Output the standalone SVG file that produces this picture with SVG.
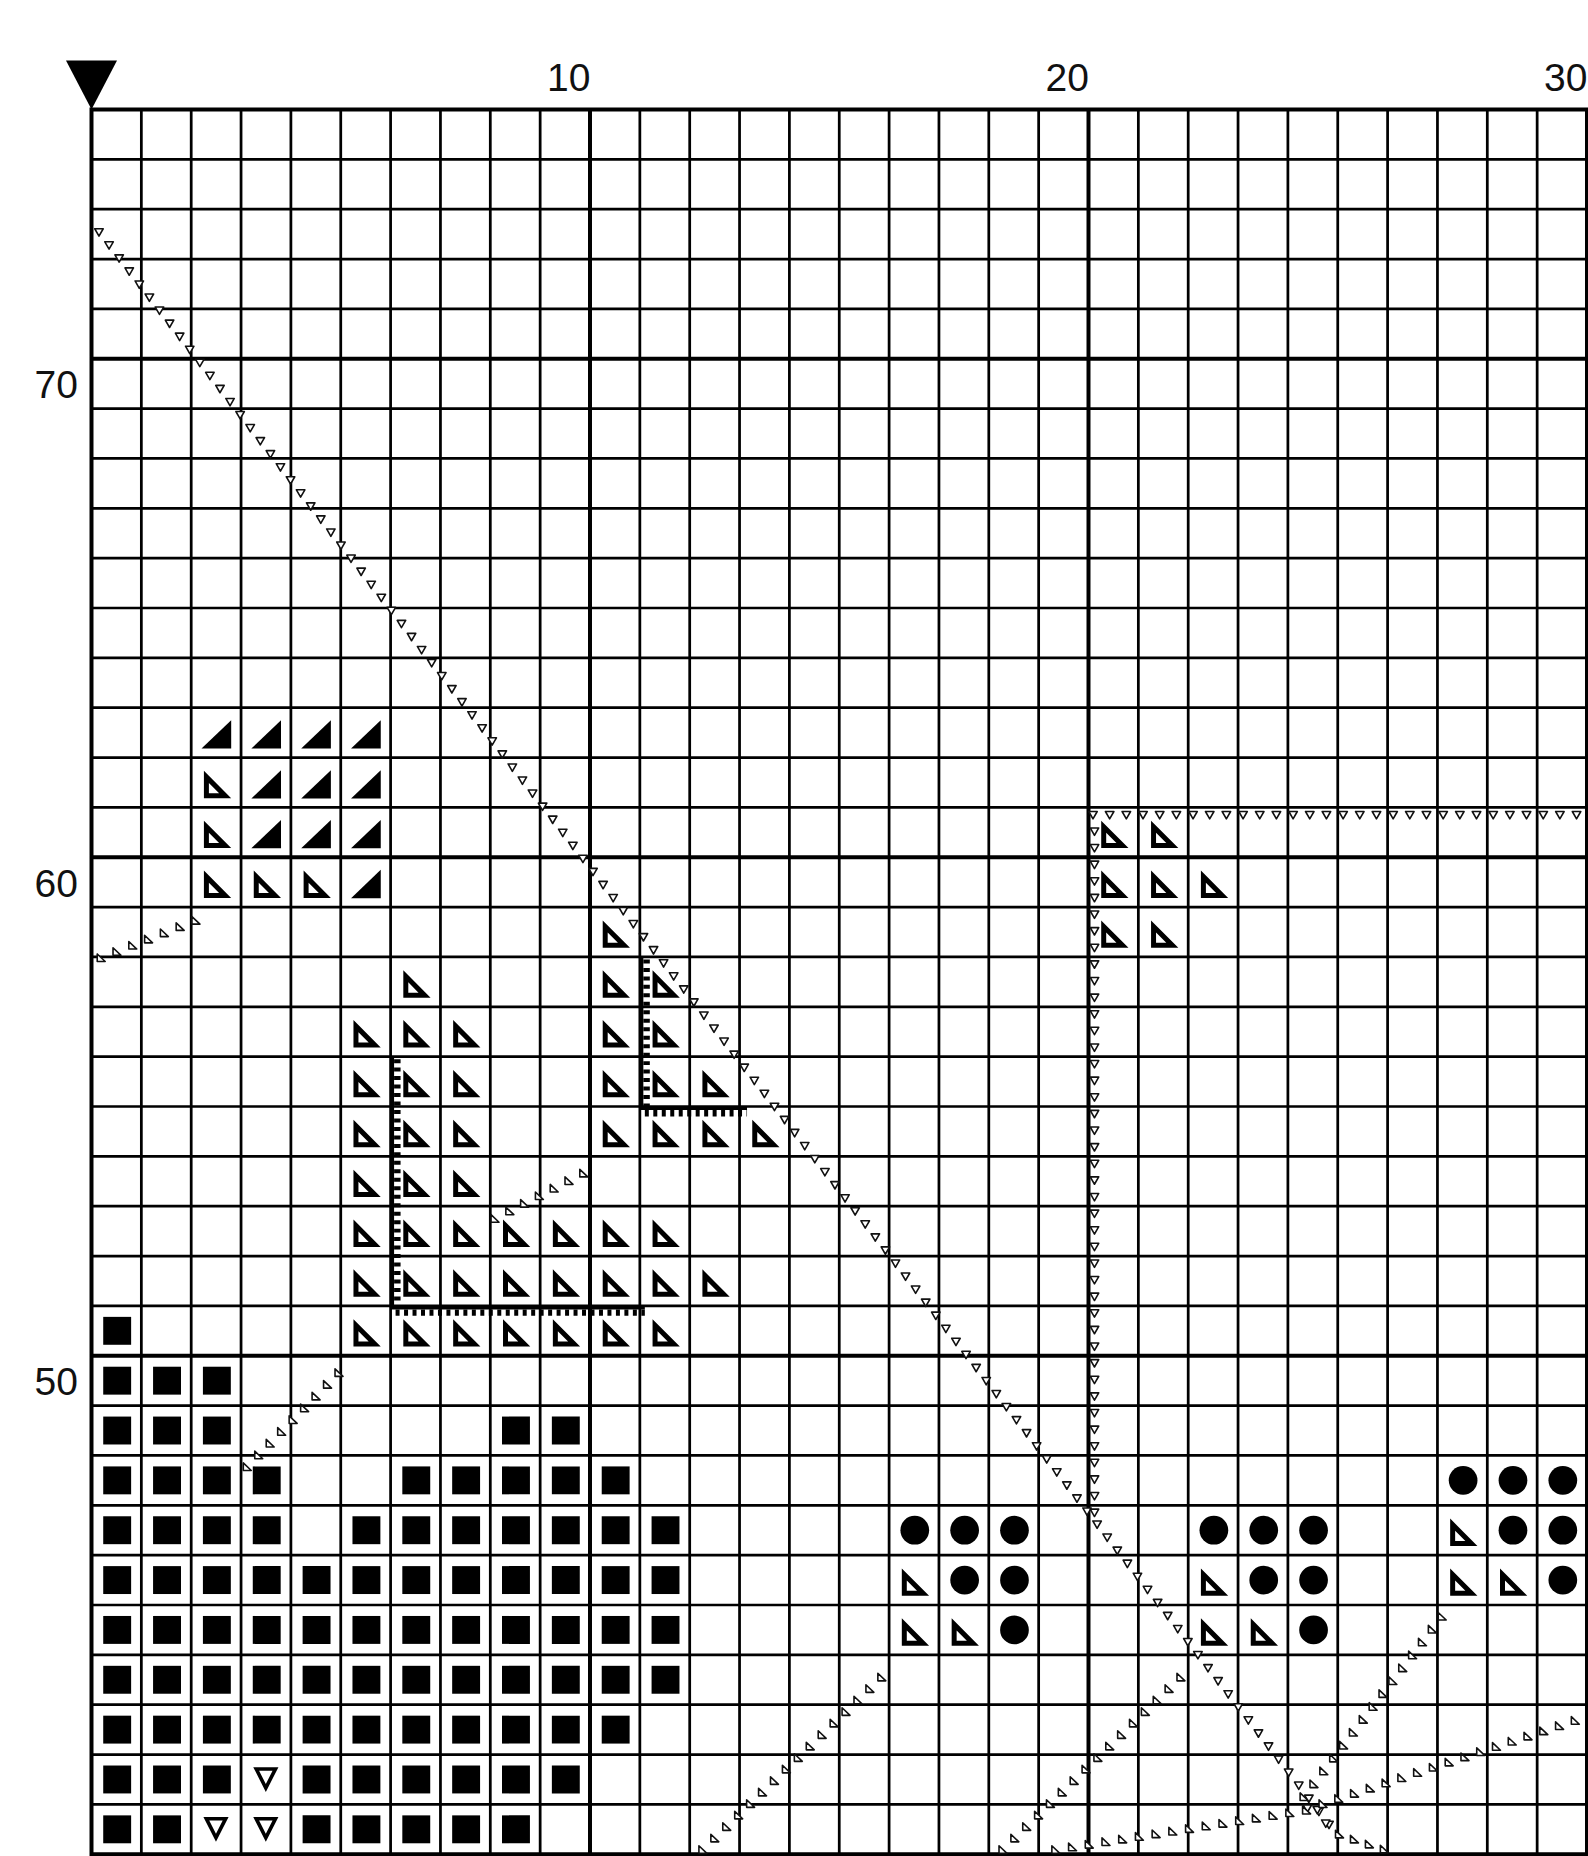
<svg xmlns="http://www.w3.org/2000/svg" width="1588" height="1856" viewBox="0 0 1588 1856">
<style>
.t{font-family:"Liberation Sans",Arial,sans-serif;font-size:39px;fill:#111}
.gt{fill:none;stroke:#000;stroke-width:.055}
.gb{fill:none;stroke:#000;stroke-width:.08;stroke-linecap:square}
.lv{fill:none;stroke:none;marker-start:url(#mv);marker-mid:url(#mv);marker-end:url(#mv)}
.la{fill:none;stroke:none;marker-start:url(#ma);marker-mid:url(#ma);marker-end:url(#ma)}
.sb{fill:none;stroke:#000;stroke-width:.07}
.st{fill:none;stroke:#000;stroke-width:.13;stroke-dasharray:.08 .09}
</style>
<defs>
<marker id="mv" markerUnits="userSpaceOnUse" markerWidth="1" markerHeight="1" refX="0" refY="0" orient="0" overflow="visible" style="overflow:visible"><path d="M-.085,-.068H.085L0,.08Z" fill="#fff" stroke="#111" stroke-width=".032" stroke-linejoin="round"/></marker>
<marker id="ma" markerUnits="userSpaceOnUse" markerWidth="1" markerHeight="1" refX="0" refY="0" orient="0" overflow="visible" style="overflow:visible"><path d="M-.075,-.08V.072H.085Z" fill="#fff" stroke="#111" stroke-width=".032" stroke-linejoin="round"/></marker>
<path id="sq" d="M.235,.22h.56v.56h-.56z"/>
<circle id="ci" cx=".515" cy=".5" r=".288"/>
<path id="to" d="M.255,.267V.816H.802ZM.355,.51V.716H.56Z" fill-rule="evenodd"/>
<path id="tf" d="M.207,.82H.802V.253Z"/>
<path id="tv" d="M.245,.253H.75L.497,.75ZM.362,.325L.497,.591L.632,.325Z" fill-rule="evenodd"/>
</defs>
<rect width="1588" height="1856" fill="#fff"/>
<g id="labels">
<path d="M66,60.5H117L91.5,109.5Z" fill="#000"/>
<text class="t" x="590.5" y="91" text-anchor="end">10</text>
<text class="t" x="1089" y="91" text-anchor="end">20</text>
<text class="t" x="1587.5" y="91" text-anchor="end">30</text>
<text class="t" x="78" y="398" text-anchor="end">70</text>
<text class="t" x="78" y="896.5" text-anchor="end">60</text>
<text class="t" x="78" y="1395" text-anchor="end">50</text>
</g>
<g transform="translate(91.5,109.5) scale(49.85)">
<g id="grid">
<path class="gt" d="M1,0V35M2,0V35M3,0V35M4,0V35M5,0V35M6,0V35M7,0V35M8,0V35M9,0V35M11,0V35M12,0V35M13,0V35M14,0V35M15,0V35M16,0V35M17,0V35M18,0V35M19,0V35M21,0V35M22,0V35M23,0V35M24,0V35M25,0V35M26,0V35M27,0V35M28,0V35M29,0V35"/>
<path class="gt" d="M0,1H30M0,2H30M0,3H30M0,4H30M0,6H30M0,7H30M0,8H30M0,9H30M0,10H30M0,11H30M0,12H30M0,13H30M0,14H30M0,16H30M0,17H30M0,18H30M0,19H30M0,20H30M0,21H30M0,22H30M0,23H30M0,24H30M0,26H30M0,27H30M0,28H30M0,29H30M0,30H30M0,31H30M0,32H30M0,33H30M0,34H30"/>
<path class="gb" d="M0,0V35M10,0V35M20,0V35M30,0V35M0,0H30M0,5H30M0,15H30M0,25H30M0,35H30"/>
</g>
<g id="symbols" fill="#000">
<use href="#tf" x="2" y="12"/><use href="#tf" x="3" y="12"/><use href="#tf" x="4" y="12"/><use href="#tf" x="5" y="12"/>
<use href="#tf" x="3" y="13"/><use href="#tf" x="4" y="13"/><use href="#tf" x="5" y="13"/>
<use href="#tf" x="3" y="14"/><use href="#tf" x="4" y="14"/><use href="#tf" x="5" y="14"/>
<use href="#tf" x="5" y="15"/>
<use href="#to" x="2" y="13"/>
<use href="#to" x="2" y="14"/><use href="#to" x="20" y="14"/><use href="#to" x="21" y="14"/>
<use href="#to" x="2" y="15"/><use href="#to" x="3" y="15"/><use href="#to" x="4" y="15"/><use href="#to" x="20" y="15"/><use href="#to" x="21" y="15"/><use href="#to" x="22" y="15"/>
<use href="#to" x="10" y="16"/><use href="#to" x="20" y="16"/><use href="#to" x="21" y="16"/>
<use href="#to" x="6" y="17"/><use href="#to" x="10" y="17"/><use href="#to" x="11" y="17"/>
<use href="#to" x="5" y="18"/><use href="#to" x="6" y="18"/><use href="#to" x="7" y="18"/><use href="#to" x="10" y="18"/><use href="#to" x="11" y="18"/>
<use href="#to" x="5" y="19"/><use href="#to" x="6" y="19"/><use href="#to" x="7" y="19"/><use href="#to" x="10" y="19"/><use href="#to" x="11" y="19"/><use href="#to" x="12" y="19"/>
<use href="#to" x="5" y="20"/><use href="#to" x="6" y="20"/><use href="#to" x="7" y="20"/><use href="#to" x="10" y="20"/><use href="#to" x="11" y="20"/><use href="#to" x="12" y="20"/><use href="#to" x="13" y="20"/>
<use href="#to" x="5" y="21"/><use href="#to" x="6" y="21"/><use href="#to" x="7" y="21"/>
<use href="#to" x="5" y="22"/><use href="#to" x="6" y="22"/><use href="#to" x="7" y="22"/><use href="#to" x="8" y="22"/><use href="#to" x="9" y="22"/><use href="#to" x="10" y="22"/><use href="#to" x="11" y="22"/>
<use href="#to" x="5" y="23"/><use href="#to" x="6" y="23"/><use href="#to" x="7" y="23"/><use href="#to" x="8" y="23"/><use href="#to" x="9" y="23"/><use href="#to" x="10" y="23"/><use href="#to" x="11" y="23"/><use href="#to" x="12" y="23"/>
<use href="#to" x="5" y="24"/><use href="#to" x="6" y="24"/><use href="#to" x="7" y="24"/><use href="#to" x="8" y="24"/><use href="#to" x="9" y="24"/><use href="#to" x="10" y="24"/><use href="#to" x="11" y="24"/>
<use href="#to" x="27" y="28"/>
<use href="#to" x="16" y="29"/><use href="#to" x="22" y="29"/><use href="#to" x="27" y="29"/><use href="#to" x="28" y="29"/>
<use href="#to" x="16" y="30"/><use href="#to" x="17" y="30"/><use href="#to" x="22" y="30"/><use href="#to" x="23" y="30"/>
<use href="#ci" x="27" y="27"/><use href="#ci" x="28" y="27"/><use href="#ci" x="29" y="27"/>
<use href="#ci" x="16" y="28"/><use href="#ci" x="17" y="28"/><use href="#ci" x="18" y="28"/><use href="#ci" x="22" y="28"/><use href="#ci" x="23" y="28"/><use href="#ci" x="24" y="28"/><use href="#ci" x="28" y="28"/><use href="#ci" x="29" y="28"/>
<use href="#ci" x="17" y="29"/><use href="#ci" x="18" y="29"/><use href="#ci" x="23" y="29"/><use href="#ci" x="24" y="29"/><use href="#ci" x="29" y="29"/>
<use href="#ci" x="18" y="30"/><use href="#ci" x="24" y="30"/>
<use href="#sq" x="0" y="24"/>
<use href="#sq" x="0" y="25"/><use href="#sq" x="1" y="25"/><use href="#sq" x="2" y="25"/>
<use href="#sq" x="0" y="26"/><use href="#sq" x="1" y="26"/><use href="#sq" x="2" y="26"/><use href="#sq" x="8" y="26"/><use href="#sq" x="9" y="26"/>
<use href="#sq" x="0" y="27"/><use href="#sq" x="1" y="27"/><use href="#sq" x="2" y="27"/><use href="#sq" x="3" y="27"/><use href="#sq" x="6" y="27"/><use href="#sq" x="7" y="27"/><use href="#sq" x="8" y="27"/><use href="#sq" x="9" y="27"/><use href="#sq" x="10" y="27"/>
<use href="#sq" x="0" y="28"/><use href="#sq" x="1" y="28"/><use href="#sq" x="2" y="28"/><use href="#sq" x="3" y="28"/><use href="#sq" x="5" y="28"/><use href="#sq" x="6" y="28"/><use href="#sq" x="7" y="28"/><use href="#sq" x="8" y="28"/><use href="#sq" x="9" y="28"/><use href="#sq" x="10" y="28"/><use href="#sq" x="11" y="28"/>
<use href="#sq" x="0" y="29"/><use href="#sq" x="1" y="29"/><use href="#sq" x="2" y="29"/><use href="#sq" x="3" y="29"/><use href="#sq" x="4" y="29"/><use href="#sq" x="5" y="29"/><use href="#sq" x="6" y="29"/><use href="#sq" x="7" y="29"/><use href="#sq" x="8" y="29"/><use href="#sq" x="9" y="29"/><use href="#sq" x="10" y="29"/><use href="#sq" x="11" y="29"/>
<use href="#sq" x="0" y="30"/><use href="#sq" x="1" y="30"/><use href="#sq" x="2" y="30"/><use href="#sq" x="3" y="30"/><use href="#sq" x="4" y="30"/><use href="#sq" x="5" y="30"/><use href="#sq" x="6" y="30"/><use href="#sq" x="7" y="30"/><use href="#sq" x="8" y="30"/><use href="#sq" x="9" y="30"/><use href="#sq" x="10" y="30"/><use href="#sq" x="11" y="30"/>
<use href="#sq" x="0" y="31"/><use href="#sq" x="1" y="31"/><use href="#sq" x="2" y="31"/><use href="#sq" x="3" y="31"/><use href="#sq" x="4" y="31"/><use href="#sq" x="5" y="31"/><use href="#sq" x="6" y="31"/><use href="#sq" x="7" y="31"/><use href="#sq" x="8" y="31"/><use href="#sq" x="9" y="31"/><use href="#sq" x="10" y="31"/><use href="#sq" x="11" y="31"/>
<use href="#sq" x="0" y="32"/><use href="#sq" x="1" y="32"/><use href="#sq" x="2" y="32"/><use href="#sq" x="3" y="32"/><use href="#sq" x="4" y="32"/><use href="#sq" x="5" y="32"/><use href="#sq" x="6" y="32"/><use href="#sq" x="7" y="32"/><use href="#sq" x="8" y="32"/><use href="#sq" x="9" y="32"/><use href="#sq" x="10" y="32"/>
<use href="#sq" x="0" y="33"/><use href="#sq" x="1" y="33"/><use href="#sq" x="2" y="33"/><use href="#sq" x="4" y="33"/><use href="#sq" x="5" y="33"/><use href="#sq" x="6" y="33"/><use href="#sq" x="7" y="33"/><use href="#sq" x="8" y="33"/><use href="#sq" x="9" y="33"/>
<use href="#sq" x="0" y="34"/><use href="#sq" x="1" y="34"/><use href="#sq" x="4" y="34"/><use href="#sq" x="5" y="34"/><use href="#sq" x="6" y="34"/><use href="#sq" x="7" y="34"/><use href="#sq" x="8" y="34"/>
<use href="#tv" x="3" y="33"/><use href="#tv" x="2" y="34"/><use href="#tv" x="3" y="34"/>
</g>
<g id="connectors">
<path class="sb" d="M6.035,19V24.035H11.1M11.035,17V20.035H13.15"/>
<path class="st" d="M6.135,19.05V24M6.1,24.135H11.1M11.135,17.05V20M11.1,20.135H13.15"/>
<path class="lv" d="M0.15,2.46l.20225,.26185l.20225,.26185l.20225,.26185l.20225,.26185l.20225,.26185l.20225,.26185l.20225,.26185l.20225,.26185l.20225,.26185l.20225,.26185l.20225,.26185l.20225,.26185l.20225,.26185l.20225,.26185l.20225,.26185l.20225,.26185l.20225,.26185l.20225,.26185l.20225,.26185l.20225,.26185l.20225,.26185l.20225,.26185l.20225,.26185l.20225,.26185l.20225,.26185l.20225,.26185l.20225,.26185l.20225,.26185l.20225,.26185l.20225,.26185l.20225,.26185l.20225,.26185l.20225,.26185l.20225,.26185l.20225,.26185l.20225,.26185l.20225,.26185l.20225,.26185l.20225,.26185l.20225,.26185l.20225,.26185l.20225,.26185l.20225,.26185l.20225,.26185l.20225,.26185l.20225,.26185l.20225,.26185l.20225,.26185l.20225,.26185l.20225,.26185l.20225,.26185l.20225,.26185l.20225,.26185l.20225,.26185l.20225,.26185l.20225,.26185l.20225,.26185l.20225,.26185l.20225,.26185l.20225,.26185l.20225,.26185l.20225,.26185l.20225,.26185l.20225,.26185l.20225,.26185l.20225,.26185l.20225,.26185l.20225,.26185l.20225,.26185l.20225,.26185l.20225,.26185l.20225,.26185l.20225,.26185l.20225,.26185l.20225,.26185l.20225,.26185l.20225,.26185l.20225,.26185l.20225,.26185l.20225,.26185l.20225,.26185l.20225,.26185l.20225,.26185l.20225,.26185l.20225,.26185l.20225,.26185l.20225,.26185l.20225,.26185l.20225,.26185l.20225,.26185l.20225,.26185l.20225,.26185l.20225,.26185l.20225,.26185l.20225,.26185l.20225,.26185l.20225,.26185l.20225,.26185l.20225,.26185l.20225,.26185l.20225,.26185l.20225,.26185l.20225,.26185l.20225,.26185l.20225,.26185l.20225,.26185l.20225,.26185l.20225,.26185l.20225,.26185l.20225,.26185l.20225,.26185l.20225,.26185l.20225,.26185l.20225,.26185l.20225,.26185l.20225,.26185l.20225,.26185l.20225,.26185l.20225,.26185l.20225,.26185l.20225,.26185l.20225,.26185"/>
<path class="lv" d="M20.12,14.48v.3333v.3333v.3333v.3333v.3333v.3333v.3333v.3333v.3333v.3333v.3333v.3333v.3333v.3333v.3333v.3333v.3333v.3333v.3333v.3333v.3333v.3333v.3333v.3333v.3333v.3333v.3333v.3333v.3333v.3333v.3333v.3333v.3333v.3333v.3333v.3333v.3333v.3333v.3333v.3333v.3333"/>
<path class="lv" d="M20.09,14.15h.3345h.3345h.3345h.3345h.3345h.3345h.3345h.3345h.3345h.3345h.3345h.3345h.3345h.3345h.3345h.3345h.3345h.3345h.3345h.3345h.3345h.3345h.3345h.3345h.3345h.3345h.3345h.3345h.3345"/>
<path class="lv" d="M24.39,34.08l.2,.03l.17,.27"/>
<path class="la" d="M0.19,17.02l.3167,-.125l.3167,-.125l.3167,-.125l.3167,-.125l.3167,-.125l.3167,-.125"/>
<path class="la" d="M3.12,27.23l.23,-.236l.23,-.236l.23,-.236l.23,-.236l.23,-.236l.23,-.236l.23,-.236l.23,-.236"/>
<path class="la" d="M8.09,22.25l.2967,-.1517l.2967,-.1517l.2967,-.1517l.2967,-.1517l.2967,-.1517l.2967,-.1517"/>
<path class="la" d="M12.26,34.91l.2393,-.2307l.2393,-.2307l.2393,-.2307l.2393,-.2307l.2393,-.2307l.2393,-.2307l.2393,-.2307l.2393,-.2307l.2393,-.2307l.2393,-.2307l.2393,-.2307l.2393,-.2307l.2393,-.2307l.2393,-.2307l.2393,-.2307"/>
<path class="la" d="M18.28,34.91l.238,-.2307l.238,-.2307l.238,-.2307l.238,-.2307l.238,-.2307l.238,-.2307l.238,-.2307l.238,-.2307l.238,-.2307l.238,-.2307l.238,-.2307l.238,-.2307l.238,-.2307l.238,-.2307l.238,-.2307"/>
<path class="la" d="M24.32,33.85l.1979,-.2586l.1979,-.2586l.1979,-.2586l.1979,-.2586l.1979,-.2586l.1979,-.2586l.1979,-.2586l.1979,-.2586l.1979,-.2586l.1979,-.2586l.1979,-.2586l.1979,-.2586l.1979,-.2586l.1979,-.2586"/>
<path class="la" d="M24.7,33.99l.3163,-.1044l.3163,-.1044l.3163,-.1044l.3163,-.1044l.3163,-.1044l.3163,-.1044l.3163,-.1044l.3163,-.1044l.3163,-.1044l.3163,-.1044l.3163,-.1044l.3163,-.1044l.3163,-.1044l.3163,-.1044l.3163,-.1044l.3163,-.1044"/>
<path class="la" d="M19.34,34.91l.3353,-.0527l.3353,-.0527l.3353,-.0527l.3353,-.0527l.3353,-.0527l.3353,-.0527l.3353,-.0527l.3353,-.0527l.3353,-.0527l.3353,-.0527l.3353,-.0527l.3353,-.0527l.3353,-.0527l.3353,-.0527l.3353,-.0527"/>
<path class="la" d="M25.03,34.6l.3,.1l.3,.1l.3,.1"/>
</g>
</g>
</svg>
